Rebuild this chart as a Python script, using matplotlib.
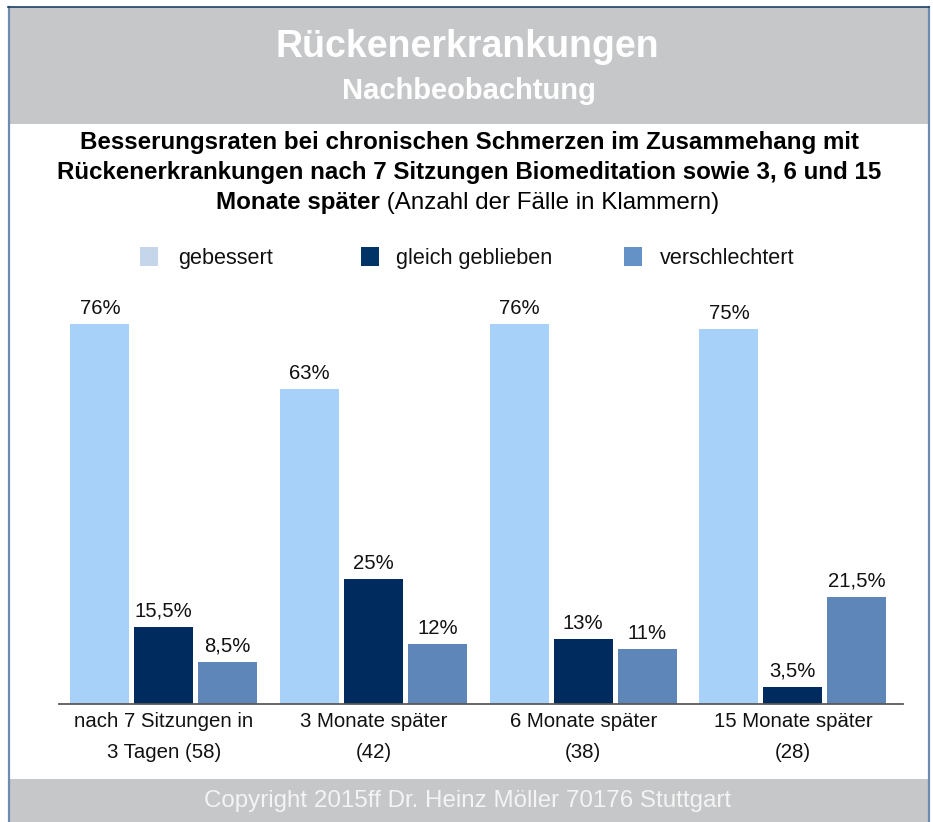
import matplotlib
matplotlib.use("Agg")
import matplotlib.pyplot as plt
from matplotlib.patches import Rectangle
from matplotlib.lines import Line2D
import numpy as np

plt.rcParams['font.family'] = ['Liberation Sans', 'DejaVu Sans']

categories = ["nach 7 Sitzungen in\n3 Tagen (58)", "3 Monate später\n(42)",
              "6 Monate später\n(38)", "15 Monate später\n(28)"]
series_names = ["gebessert", "gleich geblieben", "verschlechtert"]
gebessert = [76, 63, 76, 75]
gleich_geblieben = [15.5, 25, 13, 3.5]
verschlechtert = [8.5, 12, 11, 21.5]
series_values = [gebessert, gleich_geblieben, verschlechtert]
bar_colors = ["#A8D1FA", "#002B5F", "#5E86B8"]
legend_colors = ["#C5D5EA", "#003366", "#6592C6"]

W, H = 933, 822
fig = plt.figure(figsize=(W / 100, H / 100), dpi=100, facecolor="white")


def fx(x):
    return x / W


def fy(y):
    return 1 - y / H


grey = "#C6C7C9"
# header and footer bands
fig.add_artist(Rectangle((fx(9), fy(124)), fx(928) - fx(9), fy(7) - fy(124),
                         transform=fig.transFigure, facecolor=grey, edgecolor="none", zorder=0))
fig.add_artist(Rectangle((fx(9), fy(822)), fx(928) - fx(9), fy(779) - fy(822),
                         transform=fig.transFigure, facecolor=grey, edgecolor="none", zorder=0))
# frame lines
fig.add_artist(Line2D([fx(9), fx(9)], [fy(7), fy(822)], transform=fig.transFigure,
                      color="#6E8BB0", lw=1.6, zorder=1))
fig.add_artist(Line2D([fx(928.5), fx(928.5)], [fy(7), fy(822)], transform=fig.transFigure,
                      color="#6E8BB0", lw=1.6, zorder=1))
fig.add_artist(Line2D([fx(8), fx(929)], [fy(7), fy(7)], transform=fig.transFigure,
                      color="#1F3F68", lw=1.2, zorder=1))

# header titles
fig.text(fx(467.5), fy(47), "Rückenerkrankungen", ha="center", va="center",
         fontsize=27, fontweight="bold", color="white")
fig.text(fx(469), fy(91), "Nachbeobachtung", ha="center", va="center",
         fontsize=21, fontweight="bold", color="white")

# chart title
tfs = 17.4
fig.text(fx(469.5), fy(142), "Besserungsraten bei chronischen Schmerzen im Zusammehang mit",
         ha="center", va="center", fontsize=tfs, fontweight="bold", color="black")
fig.text(fx(469.5), fy(173), "Rückenerkrankungen nach 7 Sitzungen Biomeditation sowie 3, 6 und 15",
         ha="center", va="center", fontsize=tfs, fontweight="bold", color="black")
renderer = fig.canvas.get_renderer()
t1 = fig.text(0, fy(203), "Monate später", ha="left", va="center",
              fontsize=tfs, fontweight="bold", color="black")
t2 = fig.text(0, fy(203), " (Anzahl der Fälle in Klammern)", ha="left", va="center",
              fontsize=tfs, color="black")
w1 = t1.get_window_extent(renderer).width
w2 = t2.get_window_extent(renderer).width
x0 = 467.5 - (w1 + w2) / 2
t1.set_x(fx(x0))
t2.set_x(fx(x0 + w1))

# legend
leg_patch_x = [140, 361, 624]
leg_text_x = [178, 396, 660]
for name, col, px, tx in zip(series_names, legend_colors, leg_patch_x, leg_text_x):
    fig.add_artist(Rectangle((fx(px), fy(266)), fx(18), fy(0) - fy(19),
                             transform=fig.transFigure, facecolor=col, edgecolor="none"))
    fig.text(fx(tx), fy(264), name, ha="left", va="baseline", fontsize=15.6, color="#111111")

# axes
ax = fig.add_axes([fx(59), fy(704), fx(903) - fx(59), fy(290) - fy(704)])
ax.set_facecolor("none")
ax.set_ylim(0, 82.8)
ax.set_xlim(-0.5, 3.525)
x = np.arange(len(categories))
offsets = [-0.305, 0.0, 0.305]
width = 0.281
for vals, col, off in zip(series_values, bar_colors, offsets):
    bars = ax.bar(x + off, vals, width=width, color=col, edgecolor="none", zorder=2)
    labels = [(f"{v:g}%").replace(".", ",") for v in vals]
    ax.bar_label(bars, labels=labels, padding=4, fontsize=14.6, color="#111111")

for s in ["top", "right", "left"]:
    ax.spines[s].set_visible(False)
ax.spines["bottom"].set_color("#5A5A5A")
ax.spines["bottom"].set_linewidth(1.3)
ax.spines["bottom"].set_zorder(3)
ax.set_yticks([])
ax.set_xticks(x)
ax.set_xticklabels(categories, fontsize=14.7, color="#111111", linespacing=1.8)
ax.tick_params(axis="x", length=0, pad=6)

# footer
fig.text(fx(467.5), fy(801), "Copyright 2015ff Dr. Heinz Möller 70176 Stuttgart",
         ha="center", va="center", fontsize=17.4, color="#F4F4F4")

fig.savefig("out.png", dpi=100, facecolor="white")
